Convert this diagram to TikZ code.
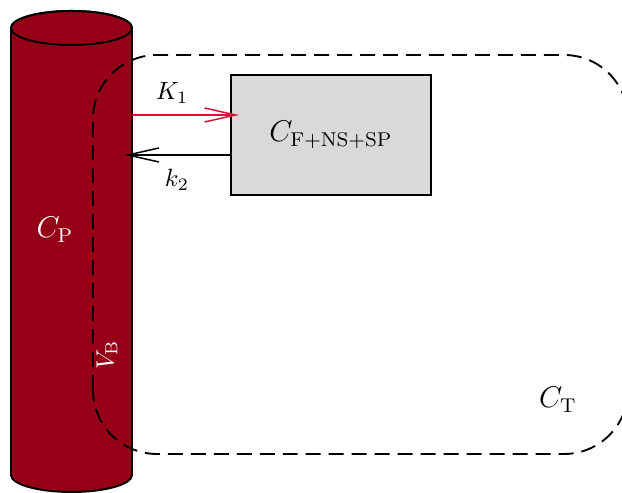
\documentclass[tikz,border=0pt]{standalone}
\usetikzlibrary{arrows.meta,calc}
\definecolor{cylred}{RGB}{150,0,22}
\definecolor{arrred}{RGB}{215,20,55}
\definecolor{boxgray}{RGB}{217,217,217}
\tikzset{
  cylstyle/.style={fill=cylred,draw=black,line width=0.8pt},
  compbox/.style={draw=black,line width=0.8pt,fill=boxgray,minimum width=2.814cm,minimum height=1.688cm,inner sep=0pt,font=\large},
  tissue/.style={draw=black,line width=0.75pt,dash pattern=on 6pt off 3.2pt,rounded corners=0.9cm},
  redarr/.style={draw=arrred,line width=0.6pt,-{Straight Barb[length=12.4pt,width=5.6pt]}},
  blkarr/.style={draw=black,line width=0.6pt,-{Straight Barb[length=12.4pt,width=5.6pt]}},
  wlabel/.style={text=white},
}
\begin{document}
\begin{tikzpicture}[x=0.01407cm,y=0.01407cm]
\useasboundingbox (0,0) rectangle (622,493);
% cylinder
\path[cylstyle] (11,465) -- (11,18) arc[start angle=180,end angle=360,x radius=60.5,y radius=17] -- (132,465) arc[start angle=0,end angle=180,x radius=60.5,y radius=17] -- cycle;
\draw[cylstyle] (71.5,465) ellipse[x radius=60.5,y radius=17];
\node[minimum width=1.702cm,minimum height=6.29cm,inner sep=0pt] (cyl) at (71.5,241.5) {};
% tissue compartment
\draw[tissue] (93,39) rectangle (628,438);
% box
\node[compbox] (box) at (331,358) {$C_{\mathrm{F+NS+SP}}$};
\path (box.west) ++(0,20) coordinate (bw1);
\path (box.west) ++(0,-20) coordinate (bw2);
\draw[redarr,shorten >=-3.6pt] (cyl.east |- bw1) -- (bw1);
\draw[blkarr,shorten >=-3.2pt] (bw2) -- (cyl.east |- bw2);
% labels
\node (k1) at (172,400) {$K_1$};
\node (k2) at (177,313) {$k_2$};
\node[wlabel,font=\large] (cp) at (55,263) {$C_{\mathrm{P}}$};
\node[wlabel,rotate=90] (vb) at (107,138) {$V_{\mathrm{B}}$};
\node[font=\large] (ct) at (558,93) {$C_{\mathrm{T}}$};
\end{tikzpicture}
\end{document}
